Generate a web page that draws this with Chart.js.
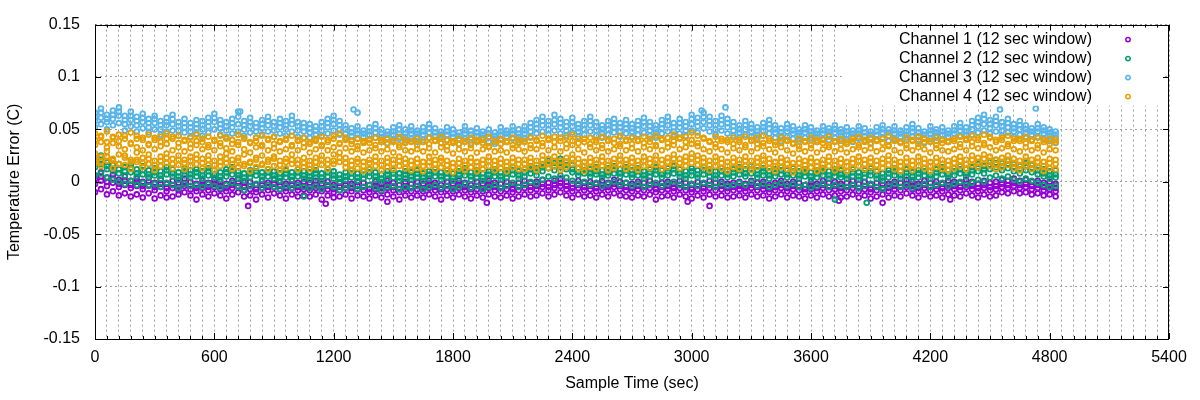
<!DOCTYPE html>
<html>
<head>
<meta charset="utf-8">
<script src="https://cdn.jsdelivr.net/npm/chart.js@4.4.1/dist/chart.umd.min.js"></script>
<style>
  html, body { margin: 0; padding: 0; background: #fff; }
</style>
</head>
<body>
<canvas id="chart" width="1200" height="400"></canvas>
<script>
// sample times (sec), one column per 30 s
const sampleTimes = [
  0,30,60,90,120,150,180,210,240,270,300,330,360,390,420,450,480,510,
  540,570,600,630,660,690,720,750,780,810,840,870,900,930,960,990,1020,1050,
  1080,1110,1140,1170,1200,1230,1260,1290,1320,1350,1380,1410,1440,1470,1500,1530,1560,1590,
  1620,1650,1680,1710,1740,1770,1800,1830,1860,1890,1920,1950,1980,2010,2040,2070,2100,2130,
  2160,2190,2220,2250,2280,2310,2340,2370,2400,2430,2460,2490,2520,2550,2580,2610,2640,2670,
  2700,2730,2760,2790,2820,2850,2880,2910,2940,2970,3000,3030,3060,3090,3120,3150,3180,3210,
  3240,3270,3300,3330,3360,3390,3420,3450,3480,3510,3540,3570,3600,3630,3660,3690,3720,3750,
  3780,3810,3840,3870,3900,3930,3960,3990,4020,4050,4080,4110,4140,4170,4200,4230,4260,4290,
  4320,4350,4380,4410,4440,4470,4500,4530,4560,4590,4620,4650,4680,4710,4740,4770,4800,4830
];

// Channel 1 (purple)
const ch1Hi = [
  6,9,4,7,2,5,1,3,0,4,-1,2,-2,1,-1,3,0,-2,
  1,-1,2,0,-2,1,3,-1,0,-3,1,-1,2,0,-2,1,-1,0,
  -1,1,-2,0,-3,-1,1,-2,0,-1,-3,0,-2,1,-1,-3,0,-2,
  0,-2,1,-1,-3,0,-2,1,-1,-3,0,-2,1,-1,-2,0,-3,-1,
  1,-1,0,2,-1,1,3,0,-2,1,-1,0,-2,1,-1,2,0,-1,
  -2,0,-1,1,-3,-1,0,-2,1,-1,-3,0,-2,1,-1,0,-2,-1,
  0,-2,1,-1,0,-3,-1,1,-2,0,-1,-3,0,-2,1,-1,0,-2,
  -1,1,-2,0,-3,-1,1,-2,0,-1,2,0,-2,1,-1,0,-2,1,
  0,-1,2,0,-2,1,-1,0,2,1,3,1,2,0,1,-1,0,-2
];
const ch1Up = [
  3,5,0,3,-2,1,-3,0,-4,0,-5,-2,-6,-3,-5,-1,-4,-6,
  -3,-5,-2,-4,-6,-3,-1,-5,-4,-7,-3,-5,-2,-4,-6,-3,-5,-4,
  -5,-3,-6,-4,-7,-5,-3,-6,-4,-5,-7,-4,-6,-3,-5,-7,-4,-6,
  -4,-6,-3,-5,-7,-4,-6,-3,-5,-7,-4,-6,-3,-5,-6,-4,-7,-5,
  -3,-5,-4,-2,-5,-3,-1,-4,-6,-3,-5,-4,-6,-3,-5,-2,-4,-5,
  -6,-4,-5,-3,-7,-5,-4,-6,-3,-5,-7,-4,-6,-3,-5,-4,-6,-5,
  -4,-6,-3,-5,-4,-7,-5,-3,-6,-4,-5,-7,-4,-6,-3,-5,-4,-6,
  -5,-3,-6,-4,-7,-5,-3,-6,-4,-5,-2,-4,-6,-3,-5,-4,-6,-3,
  -4,-5,-2,-4,-6,-3,-5,-4,-2,-3,-1,-3,-2,-4,-3,-5,-4,-6
];
const ch1Mid = [
  -2,1,-4,-1,-5,-3,-6,-4,-7,-3,-8,-5,-9,-6,-8,-4,-7,-9,
  -6,-8,-5,-7,-9,-6,-4,-8,-7,-10,-6,-8,-5,-7,-9,-6,-8,-7,
  -8,-6,-9,-7,-10,-8,-6,-9,-7,-8,-10,-7,-9,-6,-8,-10,-7,-9,
  -7,-9,-6,-8,-10,-7,-9,-6,-8,-10,-7,-9,-6,-8,-9,-7,-10,-8,
  -6,-8,-7,-5,-8,-6,-4,-7,-9,-6,-8,-7,-9,-6,-8,-5,-7,-8,
  -9,-7,-8,-6,-10,-8,-7,-9,-6,-8,-10,-7,-9,-6,-8,-7,-9,-8,
  -7,-9,-6,-8,-7,-10,-8,-6,-9,-7,-8,-10,-7,-9,-6,-8,-7,-9,
  -8,-6,-9,-7,-10,-8,-6,-9,-7,-8,-5,-7,-9,-6,-8,-7,-9,-6,
  -7,-8,-5,-7,-9,-6,-8,-7,-5,-6,-4,-6,-5,-7,-6,-8,-7,-9
];
const ch1Lo = [
  -10,-7,-12,-9,-13,-11,-14,-12,-15,-11,-16,-13,-15,-14,-12,-10,-13,-17,
  -12,-14,-11,-13,-16,-12,-10,-14,-13,-17,-12,-15,-11,-13,-16,-12,-14,-13,
  -14,-12,-17,-13,-15,-14,-12,-16,-13,-14,-16,-13,-15,-12,-14,-17,-13,-15,
  -13,-15,-12,-14,-17,-13,-15,-12,-14,-16,-13,-15,-12,-14,-15,-13,-16,-14,
  -12,-14,-13,-11,-14,-12,-10,-13,-15,-12,-14,-13,-15,-12,-14,-11,-13,-14,
  -15,-13,-14,-12,-17,-14,-13,-15,-12,-14,-16,-13,-15,-12,-14,-13,-15,-14,
  -13,-15,-12,-14,-13,-16,-14,-12,-15,-13,-14,-16,-13,-15,-12,-14,-13,-15,
  -14,-12,-15,-13,-16,-14,-12,-15,-13,-14,-11,-13,-15,-12,-14,-13,-15,-12,
  -13,-14,-11,-13,-15,-12,-14,-13,-10,-11,-9,-11,-10,-12,-11,-13,-12,-14
];
const ch1OutT = [770, 1160, 1470, 1970, 2980, 3090, 3740, 3960, 4300];
const ch1OutV = [-23, -21, -19, -20, -19, -23, -18, -20, -17];

// Channel 2 (green)
const ch2Hi = [
  22,25,19,21,17,14,16,12,15,11,13,10,14,12,9,13,11,12,
  10,13,11,9,12,14,10,8,11,13,9,12,10,8,11,9,12,10,
  9,11,8,12,10,7,9,11,8,10,12,9,7,10,11,8,10,9,
  11,8,10,12,9,11,8,10,13,9,11,8,10,12,9,11,14,10,
  12,15,13,17,20,18,22,19,16,13,15,12,14,11,13,15,12,14,
  11,13,10,12,14,11,13,15,12,10,13,11,14,12,10,13,11,12,
  14,12,15,11,13,10,12,14,11,13,10,12,9,11,13,10,12,11,
  10,12,9,11,13,10,8,11,13,10,12,9,11,13,10,12,14,11,
  13,15,12,14,17,15,19,21,18,20,17,15,18,16,14,12,10,11
];
const ch2Up = [
  18,21,15,16,12,10,13,8,11,7,9,6,11,8,5,10,7,9,
  6,10,7,5,9,11,6,4,8,10,5,9,6,4,8,5,9,6,
  5,8,4,9,6,3,5,8,4,7,9,5,3,7,8,4,7,5,
  8,4,7,9,5,8,4,7,10,5,8,4,7,9,5,8,11,6,
  9,12,10,14,17,15,18,16,12,9,11,8,10,7,9,12,8,11,
  7,10,6,9,11,7,10,12,8,6,10,7,11,9,6,10,7,9,
  11,8,12,7,10,6,9,11,7,10,6,9,5,8,10,6,9,7,
  6,9,5,8,10,6,4,8,10,6,9,5,8,10,6,9,11,7,
  10,12,8,11,14,12,16,18,15,17,14,12,15,13,11,8,6,7
];
const ch2Mid = [
  14,17,12,10,8,6,9,5,7,4,6,3,7,5,2,6,4,5,
  3,6,4,2,5,7,3,1,4,6,2,5,3,1,4,2,5,3,
  2,4,1,5,3,0,2,4,1,3,5,2,0,3,4,1,3,2,
  4,1,3,5,2,4,1,3,6,2,4,1,3,5,2,4,7,3,
  5,8,6,10,13,11,14,12,9,6,8,5,7,4,6,8,5,7,
  4,6,3,5,7,4,6,8,5,3,6,4,7,5,3,6,4,5,
  7,5,8,4,6,3,5,7,4,6,3,5,2,4,6,3,5,4,
  3,5,2,4,6,3,1,4,6,3,5,2,4,6,3,5,7,4,
  6,8,5,7,10,8,12,14,11,13,10,8,11,9,7,5,3,4
];
const ch2Lo = [
  6,8,4,2,0,-2,1,-3,-1,-4,-2,-5,-1,-3,-6,-2,-4,-3,
  -5,-2,-4,-6,-3,-1,-5,-8,-4,-2,-6,-3,-5,-7,-4,-6,-3,-5,
  -6,-4,-7,-3,-5,-8,-6,-4,-7,-5,-3,-6,-8,-5,-4,-7,-5,-6,
  -4,-7,-5,-3,-6,-4,-7,-5,-2,-6,-4,-7,-5,-3,-6,-4,-1,-5,
  -3,0,-2,2,5,3,6,4,1,-2,0,-3,-1,-4,-2,0,-3,-1,
  -4,-2,-5,-3,-1,-4,-2,0,-3,-5,-2,-4,-1,-3,-5,-2,-4,-3,
  -1,-3,0,-4,-2,-5,-3,-1,-4,-2,-5,-3,-6,-4,-2,-5,-3,-4,
  -5,-3,-6,-4,-2,-5,-7,-4,-2,-5,-3,-6,-4,-2,-5,-3,-1,-4,
  -2,0,-3,-1,2,0,4,6,3,5,2,0,3,1,-1,-3,-5,-4
];
const ch2OutT = [1050, 3720, 3880];
const ch2OutV = [-14, -17, -20];

// Channel 3 (light blue)
const ch3Hi = [
  66,70,64,68,71,63,67,62,65,60,63,58,61,64,57,60,56,59,
  58,61,65,59,57,60,67,58,61,56,59,62,57,60,58,63,57,56,
  55,53,57,60,63,58,54,51,53,49,52,55,50,48,52,54,50,53,
  49,52,55,51,48,52,50,47,53,49,51,48,50,47,52,49,53,50,
  53,56,59,62,58,64,60,57,61,55,58,62,57,54,58,60,56,59,
  55,58,61,57,54,59,62,56,60,57,64,61,66,62,58,63,60,57,
  54,58,55,52,56,59,54,51,55,53,50,54,52,49,53,51,54,50,
  52,49,53,51,48,52,54,50,53,49,52,55,51,48,53,50,52,49,
  53,56,52,58,61,64,59,62,57,60,55,58,54,51,55,52,50,48
];
const ch3Up = [
  62,66,60,64,67,59,63,58,61,56,60,54,57,60,53,56,52,55,
  54,57,61,55,53,56,62,54,57,52,55,58,53,56,54,59,53,52,
  51,49,53,56,59,54,50,47,49,46,48,51,46,45,48,50,46,49,
  46,48,51,47,45,48,46,44,49,45,47,45,46,44,48,46,49,46,
  49,52,55,58,54,59,56,53,57,51,54,58,53,50,54,56,52,55,
  51,54,57,53,50,55,58,52,56,53,60,57,62,58,54,59,56,53,
  50,54,51,48,52,55,50,47,51,49,47,50,48,46,49,48,50,47,
  48,46,49,47,45,48,50,47,49,46,48,51,47,45,49,47,48,46,
  49,52,48,54,57,60,55,58,53,56,51,54,50,48,51,49,47,45
];
const ch3Mid = [
  58,61,57,60,63,55,59,54,57,52,56,50,54,55,49,52,48,51,
  50,53,57,51,49,52,55,50,53,48,51,54,49,52,50,55,49,48,
  47,45,49,52,55,50,46,44,46,43,45,47,43,42,45,46,43,46,
  43,45,47,44,42,45,43,41,46,42,44,42,43,41,45,43,46,43,
  46,48,51,54,50,55,52,49,53,48,50,54,49,47,50,52,48,51,
  48,50,53,49,47,51,54,48,52,49,55,53,57,54,50,55,52,49,
  47,50,48,45,49,51,47,44,48,46,44,47,45,43,46,45,47,44,
  45,43,46,44,42,45,47,44,46,43,45,48,44,42,46,44,45,43,
  46,49,45,50,53,55,51,54,49,52,48,50,47,45,48,46,44,42
];
const ch3Lo = [
  52,55,50,54,56,49,53,48,51,47,50,45,48,49,44,47,43,46,
  44,47,50,45,43,46,48,44,47,42,45,48,43,46,44,48,43,42,
  42,40,44,46,49,45,41,39,41,38,40,42,38,37,40,41,38,41,
  38,40,42,39,37,40,38,36,41,37,39,37,38,36,40,38,41,38,
  41,43,46,48,45,49,46,44,47,43,45,48,44,42,45,47,43,46,
  43,45,47,44,42,46,48,43,46,44,49,47,51,48,45,49,46,44,
  42,45,43,40,44,46,42,39,43,41,39,42,40,38,41,40,42,39,
  40,38,41,39,37,40,42,39,41,38,40,43,39,37,41,39,40,38,
  41,44,40,45,47,49,46,48,44,47,43,45,42,40,43,41,39,37
];
const ch3OutT = [730, 1300, 1320, 3050, 3170, 4550, 4730];
const ch3OutV = [67, 69, 66, 68, 71, 69, 70];

// Channel 4 (orange)
const ch4A = [
  46,44,48,43,45,41,47,44,42,45,40,43,46,41,44,39,42,45,
  41,43,39,44,42,40,45,41,38,42,44,40,43,39,41,44,40,42,
  38,41,43,40,44,46,42,39,41,37,40,42,38,41,39,43,40,38,
  41,38,42,39,43,40,37,41,39,42,38,40,43,39,41,38,42,40,
  39,42,40,44,41,43,39,42,45,41,38,42,40,43,39,41,44,40,
  42,39,43,41,44,40,42,45,41,43,47,44,42,39,43,41,38,42,
  40,43,39,42,44,41,38,42,40,37,41,39,42,38,40,43,39,41,
  38,41,43,40,42,39,41,44,40,38,42,39,43,41,38,42,40,39,
  41,43,40,44,42,45,43,40,42,44,41,39,43,40,42,38,41,40
];
const ch4E = [
  40,43,38,42,39,44,37,41,40,36,42,38,41,43,37,40,36,39,
  38,35,40,37,41,36,38,42,37,39,35,41,36,38,40,35,39,37,
  36,39,35,38,41,37,40,36,34,39,37,35,40,36,38,35,37,39,
  35,38,36,40,37,34,39,36,38,35,40,37,34,38,36,39,35,37,
  38,35,39,37,40,38,42,36,39,37,41,36,38,35,40,37,36,39,
  36,40,37,38,35,41,37,39,42,38,40,37,41,38,36,39,40,36,
  38,35,40,36,37,39,35,37,39,36,34,38,35,40,37,35,38,36,
  36,39,35,38,36,40,37,35,39,37,35,40,36,38,39,35,37,38,
  39,36,41,38,40,37,42,38,40,36,39,41,37,39,35,40,36,38
];
const ch4B = [
  35,38,33,37,34,31,36,33,30,35,31,34,36,30,33,29,32,35,
  31,33,30,34,32,29,35,31,28,33,34,30,32,29,31,34,30,33,
  28,31,34,30,33,36,32,29,31,28,30,32,29,31,28,33,30,29,
  31,29,32,28,33,30,27,31,29,32,28,31,33,29,30,28,32,31,
  29,32,31,34,30,33,29,32,35,31,28,33,30,32,29,31,34,30,
  32,29,33,31,34,30,33,35,31,33,36,34,31,29,33,31,28,32,
  30,33,29,32,34,31,28,33,30,27,31,29,32,28,31,33,29,31,
  28,31,33,30,32,29,31,34,30,28,32,30,33,31,28,32,30,29,
  31,33,30,34,32,35,33,30,32,34,31,29,33,30,32,28,31,30
];
const ch4C = [
  27,24,29,22,26,25,21,28,23,26,20,24,27,22,25,21,24,26,
  22,25,20,24,27,21,23,26,19,23,25,21,24,20,22,26,21,23,
  20,23,25,21,26,28,23,20,22,19,21,24,20,23,21,24,22,20,
  22,19,24,21,23,20,18,22,20,23,19,21,24,20,22,19,23,21,
  21,23,20,25,22,24,20,23,26,22,19,23,21,24,20,22,25,21,
  23,20,24,22,25,21,23,26,22,24,27,25,23,20,24,22,19,23,
  21,24,20,23,25,22,19,23,21,18,22,20,23,19,21,24,20,22,
  19,22,24,21,23,20,22,25,21,19,23,20,24,22,19,23,21,20,
  22,24,21,25,23,26,24,21,23,25,22,20,24,21,23,19,22,21
];
const ch4F = [
  22,19,24,20,17,23,19,21,18,22,16,20,23,17,21,18,20,22,
  18,21,16,19,22,17,20,15,18,21,17,19,22,16,19,21,17,18,
  16,19,21,17,20,23,18,16,19,15,18,20,16,19,17,20,18,16,
  18,15,19,17,20,16,14,18,16,19,15,17,20,16,18,15,19,17,
  17,19,16,21,18,20,16,19,22,18,15,19,17,20,16,18,21,17,
  19,16,20,18,21,17,19,22,18,20,23,21,19,16,20,18,15,19,
  17,20,16,19,21,18,15,19,17,14,18,16,19,15,17,20,16,18,
  15,18,20,17,19,16,18,21,17,15,19,16,20,18,15,19,17,16,
  18,20,17,21,19,22,20,17,19,21,18,16,20,17,19,15,18,17
];
const ch4D = [
  18,15,20,13,17,16,12,19,14,17,11,15,18,13,16,12,15,17,
  13,16,11,15,18,12,14,17,10,14,16,12,15,11,13,17,12,14,
  12,14,16,12,17,19,14,11,13,10,12,15,11,14,12,15,13,11,
  13,10,15,12,14,11,9,13,11,14,10,12,15,11,13,10,14,12,
  12,14,11,16,13,15,11,14,17,13,10,14,12,15,11,13,16,12,
  14,11,15,13,16,12,14,17,13,15,18,16,14,11,15,13,10,14,
  12,15,11,14,16,13,10,14,12,9,13,11,14,10,12,15,11,13,
  10,13,15,12,14,11,13,16,12,10,14,11,15,13,10,14,12,11,
  13,15,12,16,14,17,15,12,14,16,13,11,15,12,14,10,13,12
];

const seriesNames = [
  "Channel 1 (12 sec window)",
  "Channel 2 (12 sec window)",
  "Channel 3 (12 sec window)",
  "Channel 4 (12 sec window)"
];
const seriesColors = ["#9400d3", "#009e73", "#56b4e9", "#e69f00"];

const xMajorTicks = [0, 600, 1200, 1800, 2400, 3000, 3600, 4200, 4800, 5400];
const yTicks = [-0.15, -0.1, -0.05, 0, 0.05, 0.1, 0.15];
const yTickLabels = ["-0.15", "-0.1", "-0.05", "0", "0.05", "0.1", "0.15"];

const channels = [
  { strands: [ch1Hi, ch1Up, ch1Mid, ch1Lo], outT: ch1OutT, outV: ch1OutV },
  { strands: [ch2Hi, ch2Up, ch2Mid, ch2Lo], outT: ch2OutT, outV: ch2OutV },
  { strands: [ch3Hi, ch3Up, ch3Mid, ch3Lo], outT: ch3OutT, outV: ch3OutV },
  { strands: [ch4A, ch4E, ch4B, ch4C, ch4F, ch4D], outT: [], outV: [] }
];

function toPoints(ch) {
  const pts = [];
  ch.strands.forEach(s => s.forEach((v, i) => pts.push({ x: sampleTimes[i], y: v / 1000 })));
  ch.outT.forEach((t, i) => pts.push({ x: t, y: ch.outV[i] / 1000 }));
  return pts;
}

const FONT = { family: "'Liberation Sans', Arial, sans-serif", size: 16 };

// gnuplot style key box, border and inward tick marks
const frame = {
  id: "frame",
  afterDraw(chart) {
    const { ctx, chartArea: a, scales: { x, y } } = chart;
    ctx.save();

    // opaque key box
    ctx.fillStyle = "#fff";
    ctx.fillRect(a.right - 326, a.top + 1, 320, 80);

    ctx.strokeStyle = "#000";
    ctx.lineWidth = 1;
    ctx.beginPath();
    for (let v = 0; v <= 5400; v += 60) {
      const px = Math.round(x.getPixelForValue(v)) + 0.5;
      const len = v % 600 === 0 ? 6 : 3;
      ctx.moveTo(px, a.bottom); ctx.lineTo(px, a.bottom - len);
      ctx.moveTo(px, a.top); ctx.lineTo(px, a.top + len);
    }
    yTicks.forEach(v => {
      const py = Math.round(y.getPixelForValue(v)) + 0.5;
      ctx.moveTo(a.left, py); ctx.lineTo(a.left + 6, py);
      ctx.moveTo(a.right, py); ctx.lineTo(a.right - 6, py);
    });
    ctx.stroke();

    ctx.strokeRect(Math.round(a.left) + 0.5, Math.round(a.top) + 0.5,
      Math.round(a.right - a.left) - 1, Math.round(a.bottom - a.top));

    // key entries
    ctx.font = "16px 'Liberation Sans', Arial, sans-serif";
    ctx.textAlign = "right";
    ctx.textBaseline = "middle";
    ctx.fillStyle = "#000";
    ctx.lineWidth = 1.5;
    seriesNames.forEach((name, k) => {
      const ty = a.top + 15 + k * 19;
      ctx.fillText(name, a.right - 77, ty);
      ctx.beginPath();
      ctx.strokeStyle = seriesColors[k];
      ctx.arc(a.right - 41, ty, 2.2, 0, Math.PI * 2);
      ctx.stroke();
    });
    ctx.restore();
  }
};

new Chart(document.getElementById("chart"), {
  type: "scatter",
  data: {
    datasets: channels.map((ch, k) => ({
      label: seriesNames[k],
      data: toPoints(ch),
      borderColor: seriesColors[k],
      backgroundColor: "transparent",
      pointRadius: 2.4,
      pointBorderWidth: 1.8,
      order: 4 - k
    }))
  },
  options: {
    responsive: false,
    animation: false,
    devicePixelRatio: 1,
    layout: { padding: { top: 18, right: 31, left: 0, bottom: 0 } },
    plugins: { legend: { display: false }, tooltip: { enabled: false } },
    scales: {
      x: {
        type: "linear",
        min: 0,
        max: 5400,
        afterFit: s => { s.height = 61; },
        ticks: {
          stepSize: 60,
          maxTicksLimit: 200,
          autoSkip: false,
          maxRotation: 0,
          padding: 9,
          color: "#000",
          font: FONT,
          callback: v => xMajorTicks.includes(v) ? String(v) : ""
        },
        grid: { color: "#a0a0a0", lineWidth: 1, drawTicks: false },
        border: { display: false, dash: [2, 3] },
        title: {
          display: true, text: "Sample Time (sec)", color: "#000", font: FONT,
          padding: { top: 0, bottom: 7 }
        }
      },
      y: {
        min: -0.15,
        max: 0.15,
        afterFit: s => { s.width = 95; },
        afterBuildTicks: s => { s.ticks = yTicks.map(v => ({ value: v })); },
        ticks: {
          padding: 15,
          color: "#000",
          font: FONT,
          callback: (v, i) => yTickLabels[i]
        },
        grid: { color: "#a0a0a0", lineWidth: 1, drawTicks: false },
        border: { display: false, dash: [2, 3] },
        title: {
          display: true, text: "Temperature Error (C)", color: "#000", font: FONT,
          padding: { top: 5, bottom: 0 }
        }
      }
    }
  },
  plugins: [frame]
});
</script>
</body>
</html>
